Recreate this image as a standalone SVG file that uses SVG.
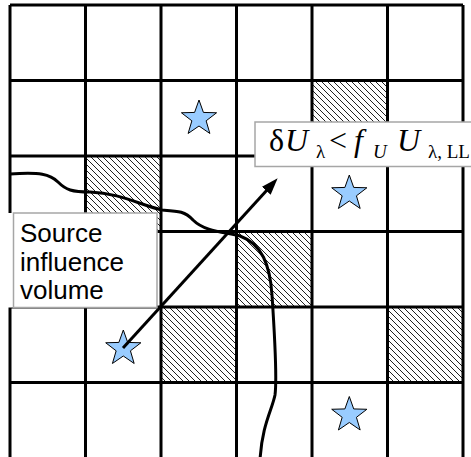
<svg xmlns="http://www.w3.org/2000/svg" xmlns:xlink="http://www.w3.org/1999/xlink" width="471" height="457" viewBox="0 0 471 457">
<style>
.grid{stroke:#000;stroke-width:3;fill:none}
.hatch{fill:url(#hatch);stroke:none}
.star{fill:#99ccff;stroke:#000;stroke-width:1}
.box{fill:#fff;stroke:#a6a6a6;stroke-width:1.5}
.lbl{font-family:"Liberation Sans",Arial,sans-serif;font-size:26px;fill:#000}
.eq{font-family:"Liberation Serif","Times New Roman",serif;fill:#000}
.thick{stroke:#000;stroke-width:3;fill:none}
</style>
<defs>
<pattern id="hatch" patternUnits="userSpaceOnUse" width="6" height="6">
<rect width="6" height="6" fill="#fff"/>
<path d="M-1,-1 L7,7 M-1,5 L1,7 M5,-1 L7,1" stroke="#222" stroke-width="1"/>
</pattern>
<path id="starShape" d="M0,-18.5 L4.41,-6.07 L17.59,-5.72 L7.13,2.32 L10.87,14.97 L0,7.5 L-10.87,14.97 L-7.13,2.32 L-17.59,-5.72 L-4.41,-6.07 Z"/>
<marker id="arrow" markerUnits="userSpaceOnUse" markerWidth="17" markerHeight="12" viewBox="0 0 17 12" refX="8" refY="6" orient="auto">
<path d="M0,0 L17,6 L0,12 Z" fill="#000"/>
</marker>
</defs>
<rect width="471" height="457" fill="#fff"/>
<g id="hatched-cells">
<rect class="hatch" x="85.5" y="156" width="75.5" height="75.5"/>
<rect class="hatch" x="312" y="80.5" width="75.5" height="75.5"/>
<rect class="hatch" x="236.5" y="231.5" width="75.5" height="75.5"/>
<rect class="hatch" x="161" y="307" width="75.5" height="75.5"/>
<rect class="hatch" x="387.5" y="307" width="75.5" height="75.5"/>
</g>
<g id="grid" class="grid">
<path d="M10,5 V460 M85.5,5 V460 M161,5 V460 M236.5,5 V460 M312,5 V460 M387.5,5 V460 M463,5 V460"/>
<path d="M10,5 H463 M10,80.5 H463 M10,156 H463 M10,231.5 H463 M10,307 H463 M10,382.5 H463"/>
</g>
<g id="connectors">
<path id="boundary" class="thick" d="M10,174 C40,172 50,174 58,182 C66,190 72,192 90,192 C120,193 140,205 162,210 C178,211 185,211 193,220 C205,232 225,232 240,236 C262,244 270,265 272,295 C275,340 277,380 275,395 C272,410 262,425 260,460"/>
</g>
<g id="star1"><use xlink:href="#starShape" class="star" x="199" y="118.5"/></g>
<g id="star2"><use xlink:href="#starShape" class="star" x="349.3" y="193.5"/></g>
<g id="star3"><use xlink:href="#starShape" class="star" x="123.3" y="348.5"/></g>
<g id="star4"><use xlink:href="#starShape" class="star" x="349.3" y="415"/></g>
<g id="arrow-connector">
<line class="thick" x1="123" y1="348" x2="271.6" y2="184.9" marker-end="url(#arrow)"/>
</g>
<g id="source-label">
<rect x="6" y="213" width="151" height="94.5" fill="#fff"/>
<rect class="box" x="13.5" y="213" width="143.5" height="94.5"/>
<text class="lbl" x="20" y="242">Source</text>
<text class="lbl" x="20" y="271">influence</text>
<text class="lbl" x="20" y="299">volume</text>
</g>
<g id="criterion-label">
<rect class="box" x="255" y="122" width="230" height="44.5"/>
<text class="eq" font-size="32"><tspan x="269" y="151">δ</tspan><tspan x="285" font-style="italic">U</tspan><tspan x="316" y="158" font-size="19">λ</tspan><tspan x="329" y="151">&lt;</tspan><tspan x="354" font-style="italic">f</tspan><tspan x="373" y="158" font-size="19" font-style="italic">U</tspan><tspan x="397" y="151" font-style="italic">U</tspan><tspan x="428" y="158" font-size="19">λ, LL</tspan></text>
</g>
</svg>
